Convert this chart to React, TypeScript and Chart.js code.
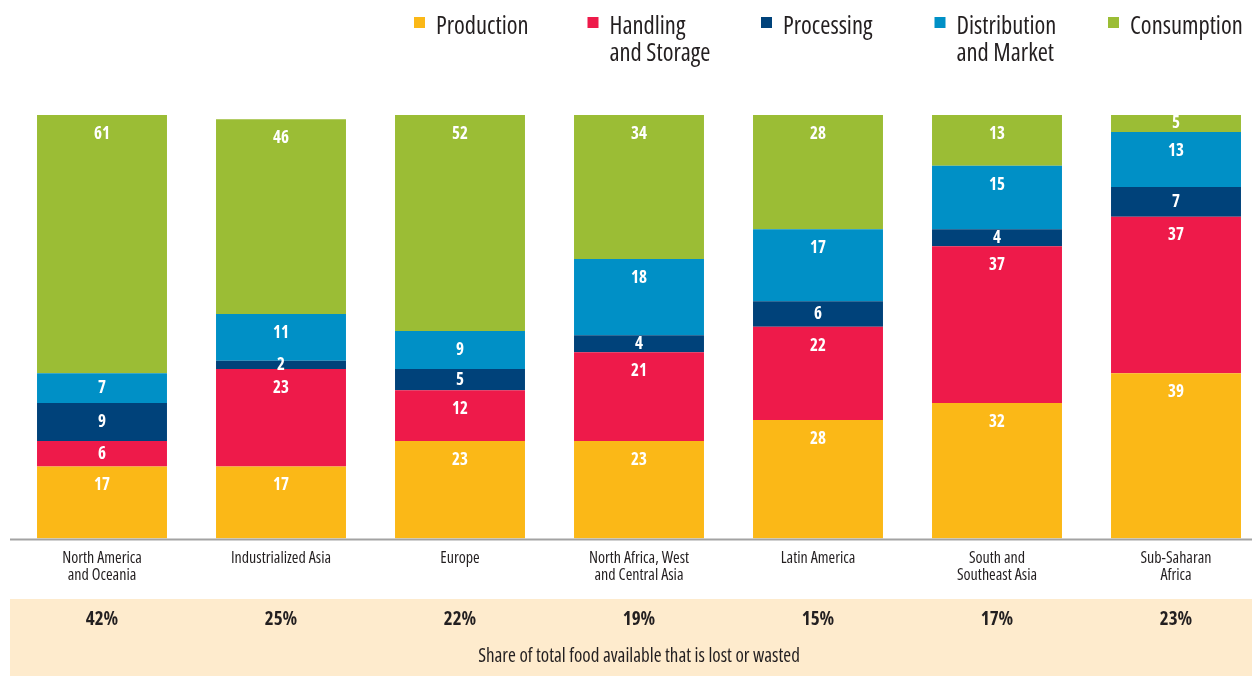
import React, { useEffect, useRef } from "react";
import { Chart, registerables } from "chart.js";

Chart.register(...registerables);

const categories: string[][] = [
  ["North America", "and Oceania"],
  ["Industrialized Asia"],
  ["Europe"],
  ["North Africa, West", "and Central Asia"],
  ["Latin America"],
  ["South and", "Southeast Asia"],
  ["Sub-Saharan", "Africa"],
];
const production = [17, 17, 23, 23, 28, 32, 39];
const handlingStorage = [6, 23, 12, 21, 22, 37, 37];
const processing = [9, 2, 5, 4, 6, 4, 7];
const distributionMarket = [7, 11, 9, 18, 17, 15, 13];
const consumption = [61, 46, 52, 34, 28, 13, 5];
const shareLostWasted = ["42%", "25%", "22%", "19%", "15%", "17%", "23%"];
const seriesLabels: string[][] = [
  ["Production"],
  ["Handling", "and Storage"],
  ["Processing"],
  ["Distribution", "and Market"],
  ["Consumption"],
];
const bandCaption = "Share of total food available that is lost or wasted";

const COLORS = ["#FBB817", "#EE1A4A", "#00427A", "#0090C6", "#9BBD35"];
const FAMILY = '"Open Sans", "DejaVu Sans Condensed", sans-serif';
const TEXT = "#231F20";

const overlayPlugin = {
  id: "overlay",
  beforeDraw(chart: any) {
    const ctx = chart.ctx;
    ctx.save();
    ctx.fillStyle = "#FEEBCD";
    ctx.fillRect(10, 599, 1242, 77);
    ctx.restore();
  },
  afterDraw(chart: any) {
    const ctx = chart.ctx;
    const xScale = chart.scales.x;
    ctx.save();
    // axis line
    ctx.strokeStyle = "#A3A3A3";
    ctx.lineWidth = 2;
    ctx.beginPath();
    ctx.moveTo(10, chart.chartArea.bottom + 1);
    ctx.lineTo(1252, chart.chartArea.bottom + 1);
    ctx.stroke();

    // value labels
    ctx.fillStyle = "#FFFFFF";
    ctx.font = `bold condensed 17px ${FAMILY}`;
    ctx.textAlign = "center";
    ctx.textBaseline = "middle";
    chart.data.datasets.forEach((ds: any, di: number) => {
      const meta = chart.getDatasetMeta(di);
      meta.data.forEach((el: any, i: number) => {
        const top = Math.max(el.y, chart.chartArea.top);
        const bottom = el.base;
        const y = Math.min(top + 19, (top + bottom) / 2);
        ctx.fillText(String(ds.data[i]), el.x, y);
      });
    });

    // share row
    ctx.fillStyle = TEXT;
    ctx.font = `bold condensed 19px ${FAMILY}`;
    shareLostWasted.forEach((s, i) => {
      ctx.fillText(s, xScale.getPixelForValue(i), 620);
    });
    ctx.font = `condensed 19px ${FAMILY}`;
    ctx.fillText(bandCaption, xScale.getPixelForValue(3), 657);

    // legend
    ctx.textAlign = "left";
    chart.data.datasets.forEach((ds: any, di: number) => {
      const x0 = 414 + di * 173.5;
      ctx.fillStyle = ds.backgroundColor;
      ctx.fillRect(x0, 17, 11, 11);
      ctx.fillStyle = TEXT;
      ctx.font = `condensed 24.5px ${FAMILY}`;
      seriesLabels[di].forEach((line, li) => {
        ctx.fillText(line, x0 + 22, 27 + li * 27);
      });
    });
    ctx.restore();
  },
};

export default function App() {
  const ref = useRef<HTMLCanvasElement>(null);
  useEffect(() => {
    if (!ref.current) return;
    const data = [production, handlingStorage, processing, distributionMarket, consumption];
    const chart = new Chart(ref.current, {
      type: "bar",
      data: {
        labels: categories,
        datasets: data.map((d, i) => ({
          label: seriesLabels[i].join(" "),
          data: d,
          backgroundColor: COLORS[i],
          borderWidth: 0,
          barPercentage: 0.726,
          categoryPercentage: 1,
        })),
      },
      options: {
        animation: false,
        responsive: false,
        layout: { padding: { left: 12.5, right: 14.5, top: 115, bottom: 0 } },
        plugins: { legend: { display: false }, tooltip: { enabled: false } },
        scales: {
          x: {
            stacked: true,
            grid: { display: false, drawTicks: false },
            border: { display: false },
            ticks: {
              color: TEXT,
              font: { family: FAMILY, size: 16, weight: "condensed" as any, lineHeight: 1.08 },
              padding: 11,
              maxRotation: 0,
              autoSkip: false,
            },
            afterFit(scale: any) {
              scale.height = 137.5;
            },
          },
          y: { stacked: true, display: false, min: 0, max: 100 },
        },
      },
      plugins: [overlayPlugin],
    });
    return () => chart.destroy();
  }, []);
  return (
    <div style={{ position: "absolute", left: 0, top: 0, width: 1252, height: 676, overflow: "hidden", background: "#fff" }}>
      <canvas ref={ref} width={1280} height={676} style={{ position: "absolute", left: 0, top: 0, width: 1280, height: 676 }} />
    </div>
  );
}
